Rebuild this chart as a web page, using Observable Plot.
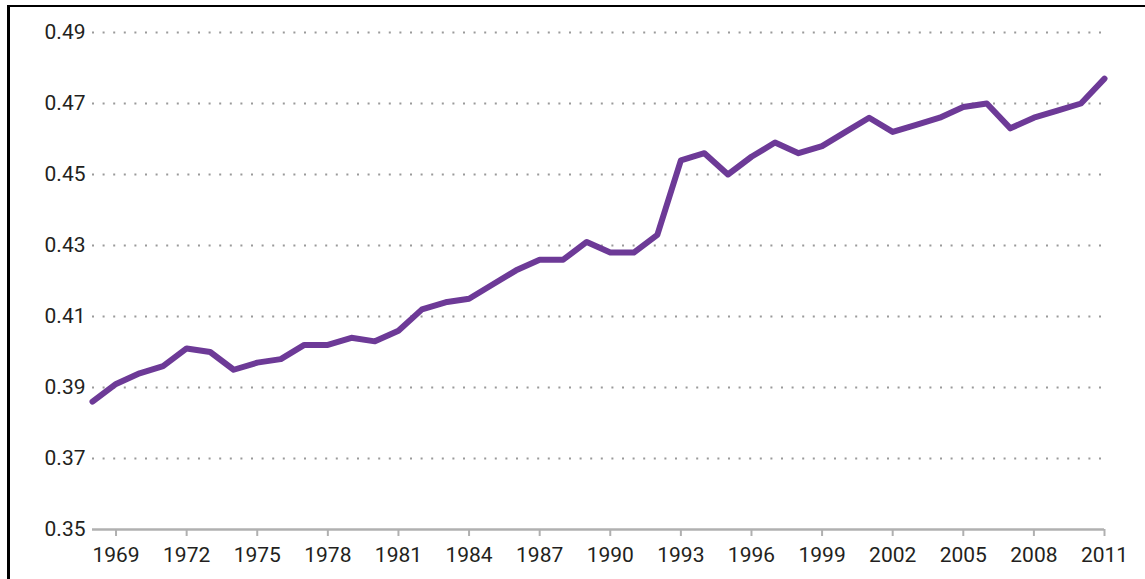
<!DOCTYPE html>
<html>
<head>
<meta charset="utf-8">
<script src="https://cdn.jsdelivr.net/npm/d3@7"></script>
<script src="https://cdn.jsdelivr.net/npm/@observablehq/plot@0.6"></script>
<style>
  html, body { margin: 0; padding: 0; background: #fff; }
  #wrap { position: relative; width: 1145px; height: 579px; overflow: hidden; }
  #frame { position: absolute; left: 7px; top: 5px; right: -10px; bottom: -10px;
           border-top: 2px solid #000; border-left: 3px solid #000; pointer-events: none; }
  #chart { position: absolute; left: 0; top: 0; }
</style>
</head>
<body>
<div id="wrap"><div id="chart"></div><div id="frame"></div></div>
<script>
const years = [1968,1969,1970,1971,1972,1973,1974,1975,1976,1977,1978,1979,1980,1981,1982,1983,1984,1985,1986,1987,1988,1989,1990,1991,1992,1993,1994,1995,1996,1997,1998,1999,2000,2001,2002,2003,2004,2005,2006,2007,2008,2009,2010,2011];
const values = [0.386,0.391,0.394,0.396,0.401,0.400,0.395,0.397,0.398,0.402,0.402,0.404,0.403,0.406,0.412,0.414,0.415,0.419,0.423,0.426,0.426,0.431,0.428,0.428,0.433,0.454,0.456,0.450,0.455,0.459,0.456,0.458,0.462,0.466,0.462,0.464,0.466,0.469,0.470,0.463,0.466,0.468,0.470,0.477];
const yTicks = [0.35,0.37,0.39,0.41,0.43,0.45,0.47,0.49];
const gridTicks = [0.37,0.39,0.41,0.43,0.45,0.47,0.49];
const xTicks = [1969,1972,1975,1978,1981,1984,1987,1990,1993,1996,1999,2002,2005,2008,2011];

const data = years.map((y, i) => ({year: y, value: values[i]}));

const chart = Plot.plot({
  width: 1145,
  height: 579,
  marginLeft: 92,
  marginRight: 41,
  marginTop: 32,
  marginBottom: 50,
  style: {fontFamily: "Roboto, sans-serif", fontSize: "21px", color: "#231f20", background: "transparent"},
  x: {domain: [1968, 2011]},
  y: {domain: [0.35, 0.49]},
  marks: [
    Plot.ruleY(gridTicks, {stroke: "#9a9a9a", strokeWidth: 2, strokeDasharray: "2,8.6", strokeLinecap: "butt"}),
    Plot.ruleY([0.35], {stroke: "#b0b0b0", strokeWidth: 2.5}),
    Plot.axisY({ticks: yTicks, tickSize: 0, tickPadding: 7, tickFormat: d3.format(".2f"), label: null, fill: "#231f20", fontSize: 21}),
    Plot.axisX({ticks: xTicks, tickSize: 7, tickPadding: 11, tickFormat: d3.format("d"), label: null, stroke: "#b0b0b0", strokeWidth: 2, fill: "#231f20", fontSize: 21}),
    Plot.line(data, {x: "year", y: "value", stroke: "#6d3a97", strokeWidth: 6, strokeLinejoin: "round", strokeLinecap: "round"})
  ]
});
document.getElementById("chart").appendChild(chart);
</script>
</body>
</html>
